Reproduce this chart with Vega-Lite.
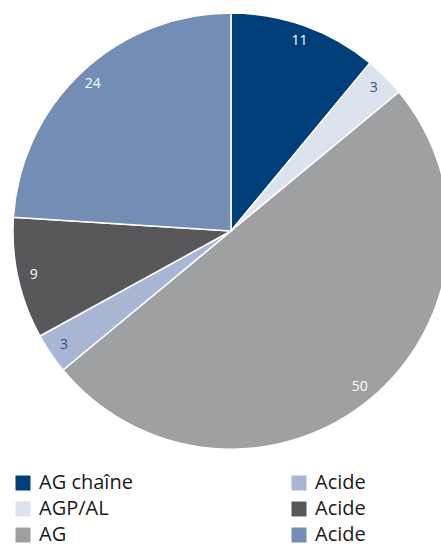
{
  "$schema": "https://vega.github.io/schema/vega-lite/v6.json",
  "width": 441,
  "height": 547,
  "autosize": {"type": "none"},
  "padding": 0,
  "background": "white",
  "data": {"values": [
    {"cat": "AG chaîne", "value": 11, "ord": 1},
    {"cat": "AGP/AL", "value": 3, "ord": 2},
    {"cat": "AG", "value": 50, "ord": 3},
    {"cat": "Acide 1", "value": 3, "ord": 4},
    {"cat": "Acide 2", "value": 9, "ord": 5},
    {"cat": "Acide 3", "value": 24, "ord": 6}
  ]},
  "encoding": {
    "theta": {"field": "value", "type": "quantitative", "stack": true},
    "order": {"field": "ord", "type": "quantitative"}
  },
  "layer": [
    {
      "mark": {"type": "arc", "outerRadius": 218, "x": 231, "y": 231, "stroke": "white", "strokeWidth": 1.5},
      "encoding": {
        "color": {
          "field": "cat",
          "type": "nominal",
          "scale": {
            "domain": ["AG chaîne", "AGP/AL", "AG", "Acide 1", "Acide 2", "Acide 3"],
            "range": ["#003f7a", "#dde3ee", "#9fa0a2", "#a9b6d3", "#58585a", "#738db5"]
          },
          "legend": {
            "title": null,
            "orient": "none",
            "legendX": 13,
            "legendY": 473,
            "columns": 2,
            "columnPadding": 156,
            "rowPadding": 6,
            "symbolType": "square",
            "symbolSize": 225,
            "symbolStrokeWidth": 0,
            "symbolOpacity": 1,
            "labelFontSize": 20,
            "labelFont": "Open Sans",
            "labelColor": "#1a1a1a",
            "labelOffset": 6,
            "labelExpr": "indexof(datum.label, 'Acide') === 0 ? 'Acide' : datum.label"
          }
        }
      }
    },
    {
      "mark": {"type": "text", "radius": 202, "x": 231, "y": 231, "font": "Open Sans", "fontSize": 14},
      "encoding": {
        "text": {"field": "value", "type": "quantitative"},
        "color": {
          "condition": {"test": "datum.cat === 'AGP/AL' || datum.cat === 'Acide 1'", "value": "#2f5487"},
          "value": "white"
        }
      }
    }
  ]
}
